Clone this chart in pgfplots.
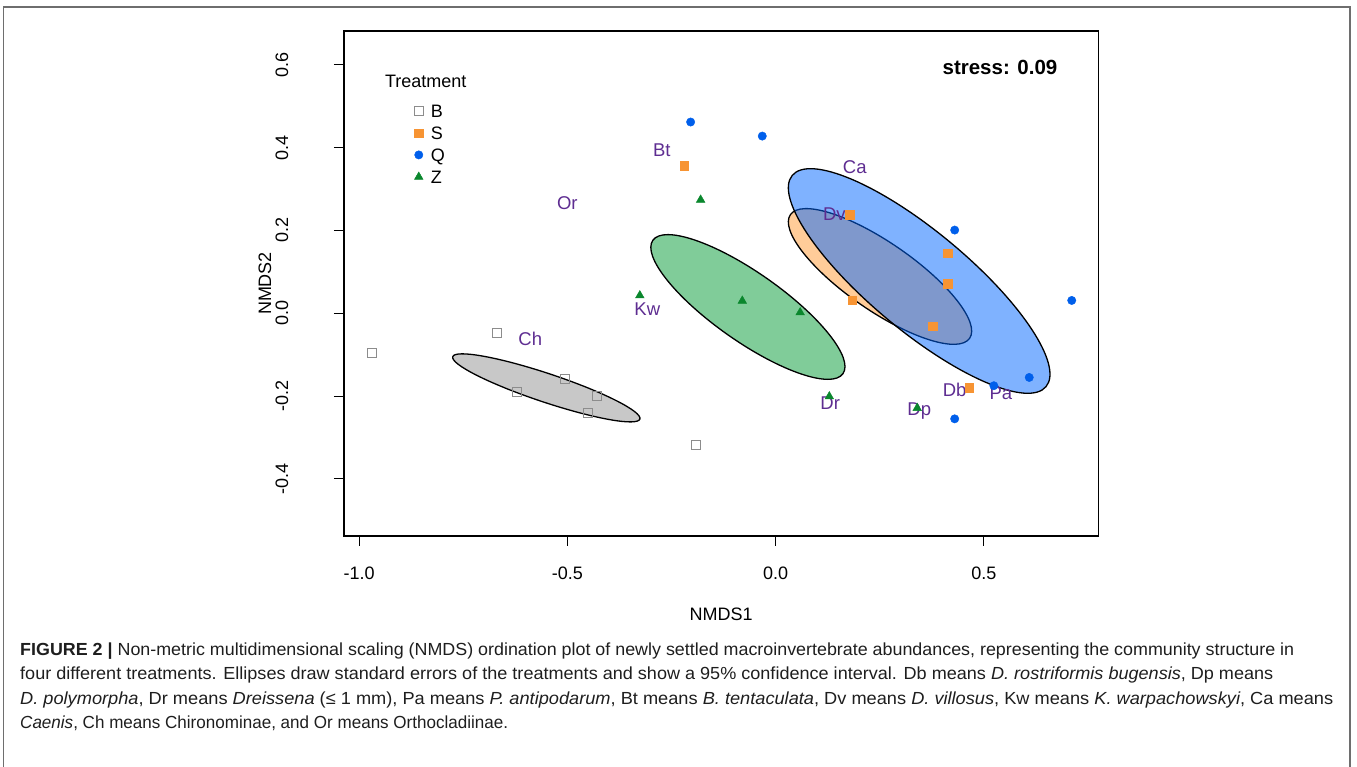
\documentclass[border=0pt]{standalone}
\usepackage{pgfplots}
\pgfplotsset{compat=1.18}
\usepackage{fontspec}
\usepackage{graphicx}
\setmainfont{Liberation Sans}
\newfontfamily\capfont{Liberation Sans}
\definecolor{lab}{RGB}{94,45,145}
\definecolor{cB}{RGB}{140,140,140}
\definecolor{cS}{RGB}{247,148,51}
\definecolor{cQ}{RGB}{0,95,235}
\definecolor{cZ}{RGB}{10,135,45}
\definecolor{fB}{RGB}{200,200,200}
\definecolor{fS}{RGB}{255,204,153}
\definecolor{fQ}{RGB}{0,102,255}
\definecolor{fZ}{RGB}{128,204,153}
\definecolor{frm}{RGB}{110,110,110}
\definecolor{captxt}{RGB}{30,30,30}
\begin{document}
\begin{tikzpicture}
\path[use as bounding box] (0pt,0pt) rectangle (1357pt,767pt);
\draw[frm, line width=1.6pt] (3.3pt,-5pt) -- (3.3pt,759.7pt) -- (1350pt,759.7pt) -- (1350pt,-5pt);
\begin{axis}[
  at={(343.9pt,231pt)}, anchor=south west,
  scale only axis, width=754.6pt, height=505pt,
  xmin=-1.0365, xmax=0.7753, ymin=-0.538, ymax=0.6819,
  xtick={-1,-0.5,0,0.5}, xticklabels={-1.0,-0.5,0.0,0.5},
  ytick={-0.4,-0.2,0,0.2,0.4,0.6}, yticklabels={-0.4,-0.2,0.0,0.2,0.4,0.6},
  tick align=outside, major tick length=10pt, xtick pos=left, ytick pos=left,
  tick style={black, line width=1pt},
  axis line style={black, line width=1.2pt},
  ticklabel style={font=\fontsize{18}{20}\selectfont},
  xticklabel style={anchor=center, yshift=-27pt},
  yticklabel style={anchor=center, xshift=-52pt, rotate=90},
  xlabel={NMDS1}, ylabel={NMDS2},
  label style={font=\fontsize{18}{20}\selectfont},
  xlabel style={at={(axis description cs:0.5,-0.1545)}, anchor=center},
  ylabel style={at={(axis description cs:-0.1046,0.5)}, anchor=center},
  legend style={at={(axis cs:-0.868,0.505)}, anchor=north west, draw=none, fill=none,
    font=\fontsize{18}{20}\selectfont, inner sep=0pt, row sep=9pt,
    nodes={inner sep=0pt, text height=13pt, text depth=0pt},
    /tikz/every odd column/.append style={column sep=7.5pt}},
  legend cell align=left,
  legend image code/.code={\draw[mark repeat=2,mark phase=2] plot coordinates {(0pt,0pt)(7pt,0pt)(14pt,0pt)};},
]
% ellipses
\draw[fill=fB, draw=black, line width=1.3pt, rotate around={-18.44:(axis cs:-0.5505,-0.1802)}]
  (axis cs:-0.5505,-0.1802) ellipse [x radius=0.2368, y radius=0.0346];
\draw[fill=fZ, draw=black, line width=1.3pt, rotate around={-35.05:(axis cs:-0.0665,0.0152)}]
  (axis cs:-0.0665,0.0152) ellipse [x radius=0.2788, y radius=0.0828];
\draw[fill=fS, draw=black, line width=1.3pt, rotate around={-34.6:(axis cs:0.2507,0.0889)}]
  (axis cs:0.2507,0.0889) ellipse [x radius=0.2614, y radius=0.0820];
\draw[fill=fQ, fill opacity=0.5, draw=black, line width=1.3pt, rotate around={-39.77:(axis cs:0.3447,0.078)}]
  (axis cs:0.3447,0.078) ellipse [x radius=0.3964, y radius=0.1198];
% points
\addplot[only marks, mark=square, mark size=4.5pt, color=cB, mark options={line width=1pt}] coordinates {
(-0.970,-0.097) (-0.669,-0.048) (-0.621,-0.189) (-0.505,-0.159) (-0.428,-0.201) (-0.451,-0.242) (-0.191,-0.319)};
\addplot[only marks, mark=square*, mark size=4.2pt, color=cS] coordinates {
(-0.220,0.356) (0.178,0.238) (0.413,0.145) (0.413,0.071) (0.184,0.031) (0.377,-0.031) (0.465,-0.180)};
\addplot[only marks, mark=*, mark size=4.2pt, color=cQ] coordinates {
(-0.204,0.462) (-0.032,0.428) (0.430,0.201) (0.711,0.031) (0.609,-0.155) (0.524,-0.175) (0.430,-0.255)};
\addplot[only marks, mark=triangle*, mark size=5pt, color=cZ] coordinates {
(-0.180,0.274) (-0.326,0.043) (-0.080,0.030) (0.059,0.002) (0.129,-0.201) (0.340,-0.229)};
\legend{B,S,Q,Z}
% species labels
\begin{scope}[every node/.style={text=lab, font=\fontsize{18.5}{20}\selectfont, inner sep=0pt}]
\node at (axis cs:-0.273,0.395) {Bt};
\node at (axis cs:0.190,0.354) {Ca};
\node at (axis cs:-0.500,0.266) {Or};
\node at (axis cs:0.141,0.240) {Dv};
\node at (axis cs:-0.308,0.011) {Kw};
\node at (axis cs:-0.589,-0.063) {Ch};
\node at (axis cs:0.430,-0.185) {Db};
\node at (axis cs:0.541,-0.192) {Pa};
\node at (axis cs:0.131,-0.217) {Dr};
\node at (axis cs:0.345,-0.237) {Dp};
\end{scope}
\node[anchor=west, inner sep=0pt, font=\fontsize{18}{20}\selectfont] at (axis cs:-0.938,0.559) {Treatment};
\node[inner sep=0pt, font=\bfseries\fontsize{20.5}{22}\selectfont] at (axis cs:0.5388,0.595) {stress: 0.09};
\end{axis}
% caption
\begin{scope}[every node/.style={anchor=base west, inner sep=0pt, text=captxt}]
\node at (20pt,111pt) {\resizebox{1274pt}{\height}{\capfont\fontsize{17.5}{20}\selectfont\textbf{FIGURE 2 |} Non-metric multidimensional scaling (NMDS) ordination plot of newly settled macroinvertebrate abundances, representing the community structure in}};
\node at (20pt,87pt) {\resizebox{1253pt}{\height}{\capfont\fontsize{17.5}{20}\selectfont four different treatments. Ellipses draw standard errors of the treatments and show a 95\% confidence interval. Db means \textit{D. rostriformis bugensis}, Dp means}};
\node at (20pt,62pt) {\resizebox{1313pt}{\height}{\capfont\fontsize{17.5}{20}\selectfont\textit{D. polymorpha}, Dr means \textit{Dreissena} (≤ 1 mm), Pa means \textit{P. antipodarum}, Bt means \textit{B. tentaculata}, Dv means \textit{D. villosus}, Kw means \textit{K. warpachowskyi}, Ca means}};
\node at (20pt,38pt) {\resizebox{488pt}{\height}{\capfont\fontsize{17.5}{20}\selectfont\textit{Caenis}, Ch means Chironominae, and Or means Orthocladiinae.}};
\end{scope}
\end{tikzpicture}
\end{document}
